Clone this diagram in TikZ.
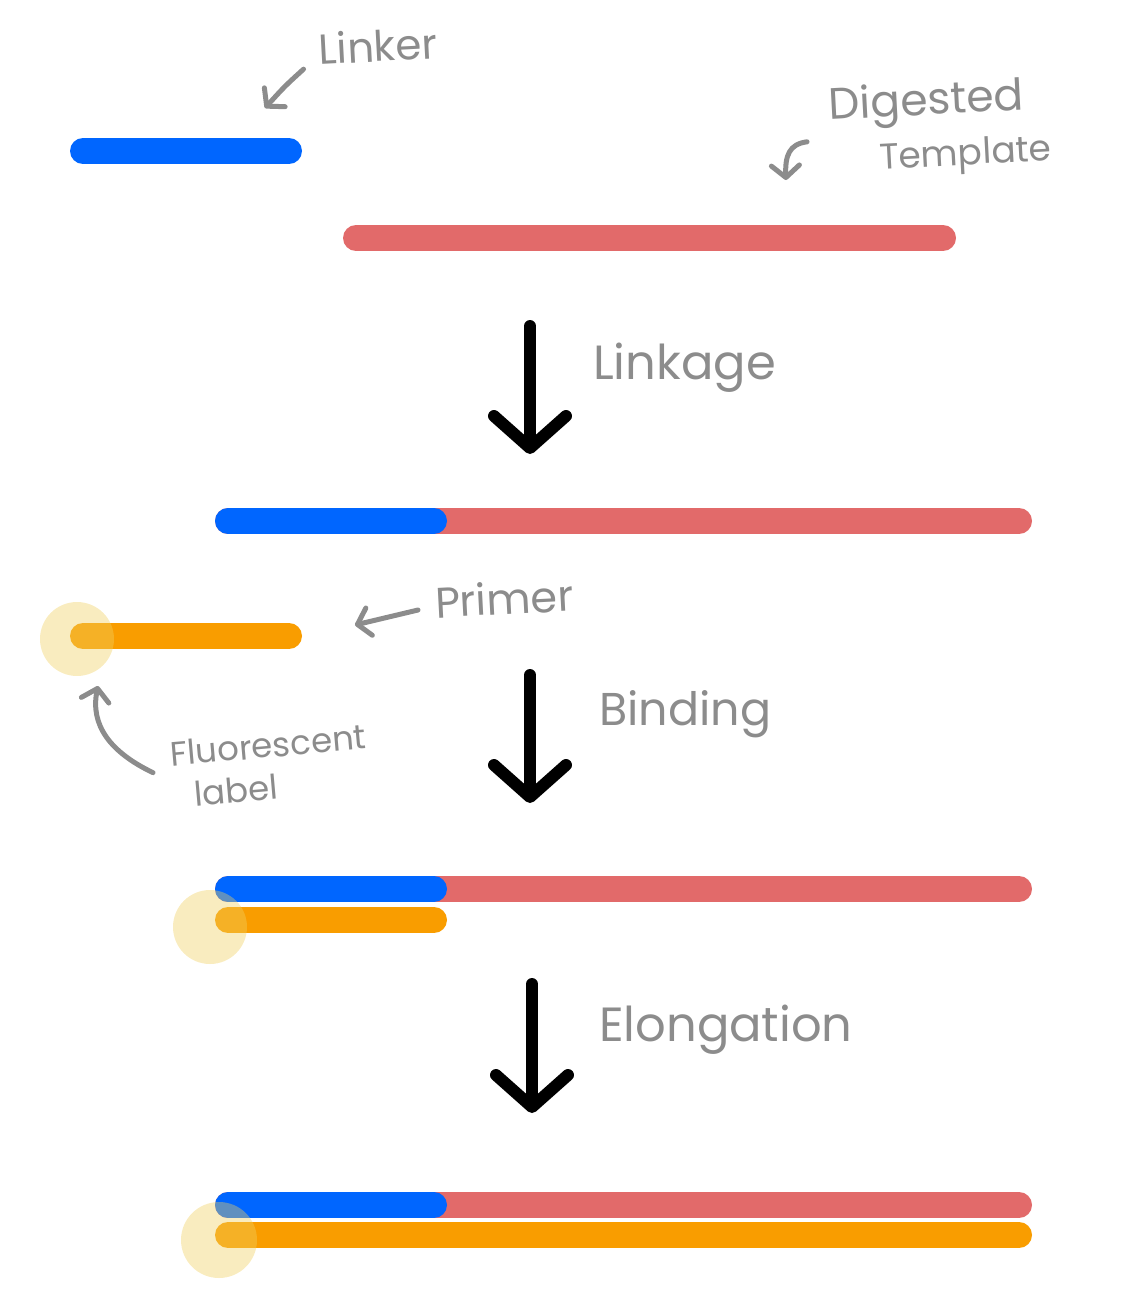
\documentclass[tikz,border=0pt]{standalone}
\usepackage{fontspec}
\newfontfamily\handfont{Poppins}
\usetikzlibrary{arrows.meta}
\definecolor{linkblue}{HTML}{0066FF}
\definecolor{tplred}{HTML}{E26A6A}
\definecolor{primorange}{HTML}{F99D00}
\definecolor{glowyellow}{HTML}{F0D060}
\definecolor{pencil}{HTML}{8C8C8C}

\begin{document}
\begin{tikzpicture}[x=1pt,y=-1pt,
    bar/.style={line width=26pt,line cap=round},
    glow/.style={fill=glowyellow,opacity=0.4},
    stagearrow/.style={line width=12pt,line cap=round,-{Straight Barb[length=32pt,width=72pt,round]}},
    note/.style={draw=pencil,line width=5pt,line cap=round,-{Straight Barb[length=12pt,width=28pt,round]}},
    hand/.style={text=pencil,inner sep=1pt,font=\handfont\fontsize{40}{44}\selectfont}]
    \useasboundingbox (0,0) rectangle (1129,1291);

    %starting pieces
    \draw[bar,linkblue] (83,151)--(289,151);

    \draw[bar,tplred] (356,238)--(943,238);

    \node[hand,rotate=3,font=\handfont\fontsize{42}{46}\selectfont] (lbllinker) at (378,46) {Linker};

    \node[hand,rotate=3,align=left] (lbltpl) at (940,128) {{\fontsize{44}{48}\selectfont Digested}\\[8pt]\hspace{48pt}{\fontsize{36}{40}\selectfont Template}};

    \coordinate (tiplinker) at (265,108);

    \coordinate (tiptpl) at (786,180);

    \draw[note] ([xshift=-14pt,yshift=-20pt]lbllinker.west) .. controls (285,86) .. (tiplinker);

    \draw[note] ([xshift=-22pt,yshift=-8pt]lbltpl.west) .. controls (789,144) and (785,156) .. (tiptpl);

    %linkage
    \coordinate (top1) at (530,326);

    \coordinate (bot1) at (530,454);

    \draw[stagearrow] (top1)--(bot1);

    \node[hand,font=\handfont\fontsize{48}{52}\selectfont,anchor=west] (lbllinkage) at (592,368) {Linkage};

    \draw[bar,tplred] (228,521)--(1019,521);

    \draw[bar,linkblue] (228,521)--(434,521);

    %primer
    \draw[bar,primorange] (83,636)--(289,636);

    \fill[glow] (77,639) circle (37);

    \node[hand,rotate=3,anchor=west,font=\handfont\fontsize{43}{46}\selectfont] (lblprimer) at (434,602) {Primer};

    \node[hand,rotate=5,align=left,font=\handfont\fontsize{34}{36}\selectfont] (lblfluor) at (270,766) {Fluorescent\\[6pt]\hspace{20pt}label};

    \coordinate (tipprimer) at (355,625);

    \coordinate (tipfluor) at (98,686);

    \draw[note] ([xshift=-16pt,yshift=-8pt]lblprimer.west)--(tipprimer);

    \draw[note] ([xshift=-18pt,yshift=2pt]lblfluor.west) .. controls (110,752) and (90,725) .. (tipfluor);

    %binding
    \coordinate (top2) at (530,675);

    \coordinate (bot2) at (530,803);

    \draw[stagearrow] (top2)--(bot2);

    \node[hand,font=\handfont\fontsize{46}{50}\selectfont,anchor=west] (lblbinding) at (598,714) {Binding};

    \draw[bar,tplred] (228,889)--(1019,889);

    \draw[bar,linkblue] (228,889)--(434,889);

    \draw[bar,primorange] (228,920)--(434,920);

    \fill[glow] (210,927) circle (37);

    %elongation
    \coordinate (top3) at (532,984);

    \coordinate (bot3) at (532,1113);

    \draw[stagearrow] (top3)--(bot3);

    \node[hand,font=\handfont\fontsize{48}{52}\selectfont,anchor=west] (lblelong) at (598,1030) {Elongation};

    \draw[bar,tplred] (228,1205)--(1019,1205);

    \draw[bar,linkblue] (228,1205)--(434,1205);

    \draw[bar,primorange] (228,1235)--(1019,1235);

    \fill[glow] (219,1240) circle (38);
\end{tikzpicture}
\end{document}
